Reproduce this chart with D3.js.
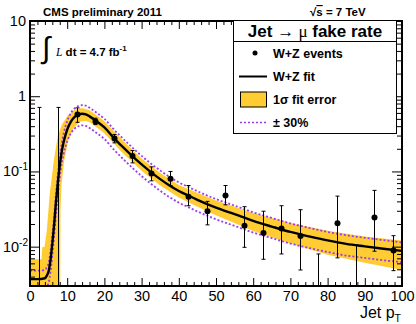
<!DOCTYPE html>
<html>
<head>
<meta charset="utf-8">
<script src="https://cdn.jsdelivr.net/npm/d3@7"></script>
<style>
  body { margin: 0; background: white; }
  svg text { font-family: "Liberation Sans", Arial, sans-serif; }
</style>
</head>
<body>
<div id="chart"></div>
<script>
// Data
const binCenters = [2.5, 7.5, 12.5, 17.5, 22.5, 27.5, 32.5, 37.5, 42.5, 47.5, 52.5, 57.5, 62.5, 67.5, 72.5, 77.5, 82.5, 87.5, 92.5, 97.5];
const rates = [null, null, 0.57, 0.46, 0.275, 0.16, 0.094, 0.08, 0.046, 0.0296, 0.048, 0.019, 0.0152, 0.0175, 0.0139, null, 0.0205, null, 0.0245, 0.0089];
const errHigh = [0.71, 0.71, 0.70, 0.51, 0.31, 0.19, 0.115, 0.10, 0.065, 0.040, 0.065, 0.034, 0.0296, 0.035, 0.031, 0.0080, 0.047, 0.0105, 0.056, 0.014];
const errLow = [0.001, 0.001, 0.45, 0.42, 0.24, 0.13, 0.075, 0.065, 0.035, 0.0195, 0.036, 0.0098, 0.0068, 0.008, 0.0049, 0.001, 0.0071, 0.001, 0.0087, 0.0048];

const fitX = [0, 2, 4, 4.5, 5, 5.5, 6, 6.5, 7, 7.5, 8, 8.5, 9, 10, 11, 12, 13, 14, 15, 16, 18, 20, 22.5, 25, 27.5, 30, 32.5, 35, 37.5, 40, 42.5, 45, 50, 55, 60, 65, 70, 75, 80, 85, 90, 95, 100];
const fitY = [0.0037, 0.0037, 0.0038, 0.0041, 0.0047, 0.0066, 0.011, 0.020, 0.040, 0.072, 0.12, 0.18, 0.24, 0.36, 0.46, 0.53, 0.57, 0.585, 0.575, 0.54, 0.46, 0.385, 0.28, 0.21, 0.16, 0.124, 0.098, 0.079, 0.065, 0.055, 0.048, 0.042, 0.033, 0.027, 0.022, 0.0185, 0.0157, 0.0137, 0.0121, 0.0109, 0.0101, 0.0094, 0.0088];
const plus30 = [0.0048, 0.0048, 0.0049, 0.0053, 0.0061, 0.0086, 0.0143, 0.026, 0.052, 0.094, 0.156, 0.234, 0.312, 0.468, 0.598, 0.689, 0.741, 0.761, 0.748, 0.702, 0.598, 0.501, 0.364, 0.273, 0.208, 0.161, 0.127, 0.103, 0.0845, 0.0715, 0.0624, 0.0546, 0.0429, 0.0351, 0.0286, 0.0241, 0.0204, 0.0178, 0.0157, 0.0142, 0.0131, 0.0122, 0.0114];
const minus30 = [0.0026, 0.0026, 0.0027, 0.0029, 0.0033, 0.0046, 0.0077, 0.014, 0.028, 0.050, 0.084, 0.126, 0.168, 0.252, 0.322, 0.371, 0.399, 0.41, 0.403, 0.378, 0.322, 0.27, 0.196, 0.147, 0.112, 0.0868, 0.0686, 0.0553, 0.0455, 0.0385, 0.0336, 0.0294, 0.0231, 0.0189, 0.0154, 0.013, 0.011, 0.0096, 0.0085, 0.0076, 0.0071, 0.0066, 0.0062];

// 1 sigma band edges
const bandHiX = [0, 3.1, 3.3, 3.9, 4.5, 5.3, 6.4, 7.5, 8.6, 10.2, 12, 14, 16, 18, 20, 25, 30, 35, 40, 45, 50, 60, 70, 80, 90, 100];
const bandHi = [0.0068, 0.0068, 0.0098, 0.0100, 0.016, 0.05, 0.14, 0.30, 0.42, 0.56, 0.66, 0.70, 0.65, 0.555, 0.465, 0.255, 0.149, 0.095, 0.066, 0.052, 0.041, 0.028, 0.0207, 0.0163, 0.0137, 0.0121];
const bandLoX = [0, 8.1, 8.2, 8.5, 9.2, 10.2, 11.6, 13.5, 15, 16, 18, 20, 25, 30, 35, 40, 45, 50, 60, 70, 80, 90, 100];
const bandLo = [0.001, 0.001, 0.03, 0.07, 0.14, 0.25, 0.37, 0.46, 0.47, 0.45, 0.385, 0.32, 0.175, 0.102, 0.065, 0.045, 0.034, 0.0262, 0.0161, 0.011, 0.0078, 0.0061, 0.0049];

const xMajor = [0, 10, 20, 30, 40, 50, 60, 70, 80, 90, 100];
const yMajor = [0.01, 0.1, 1, 10];
const yLabels = [["10", "-2"], ["10", "-1"], ["1", ""], ["10", ""]];
const legendLabels = ["W+Z events", "W+Z fit", "1σ fit error", "± 30%"];

const width = 416, height = 324;
const margin = {top: 21, right: 14, bottom: 38, left: 30};
const yellow = "#ffcc33", purple = "#9a3cf0";

const svg = d3.select("#chart").append("svg")
  .attr("width", width)
  .attr("height", height);

const x = d3.scaleLinear().domain([0, 100]).range([margin.left, width - margin.right]);
const y = d3.scaleLog().domain([0.003, 10]).range([height - margin.bottom, margin.top]);

svg.append("clipPath").attr("id", "plotclip")
  .append("rect")
  .attr("x", x(0)).attr("y", y(10))
  .attr("width", x(100) - x(0)).attr("height", y(0.003) - y(10));

const plot = svg.append("g").attr("clip-path", "url(#plotclip)");

// yellow band
const edge = d3.line().x(d => x(d[0])).y(d => y(d[1]));
const upper = bandHiX.map((v, i) => [v, bandHi[i]]);
const lower = bandLoX.map((v, i) => [v, bandLo[i]]).reverse();
plot.append("path")
  .attr("d", edge(upper) + "L" + edge(lower).slice(1) + "Z")
  .attr("fill", yellow);

// +-30% lines
const curve = d3.line().x(d => x(d[0])).y(d => y(d[1])).curve(d3.curveMonotoneX);
[plus30, minus30].forEach(s => {
  plot.append("path")
    .attr("d", curve(fitX.map((v, i) => [v, s[i]])))
    .attr("fill", "none")
    .attr("stroke", purple)
    .attr("stroke-width", 1.8)
    .attr("stroke-dasharray", "2,2");
});

// fit
plot.append("path")
  .attr("d", curve(fitX.map((v, i) => [v, fitY[i]])))
  .attr("fill", "none")
  .attr("stroke", "black")
  .attr("stroke-width", 2.4);

// error bars
const bars = plot.append("g").attr("stroke", "black").attr("stroke-width", 1);
binCenters.forEach((c, i) => {
  const cx = Math.round(x(c)) + 0.5;
  bars.append("line")
    .attr("x1", cx).attr("x2", cx)
    .attr("y1", y(errHigh[i])).attr("y2", y(errLow[i]));
  bars.append("line")
    .attr("x1", cx - 2).attr("x2", cx + 2)
    .attr("y1", y(errHigh[i])).attr("y2", y(errHigh[i]));
  if (errLow[i] > 0.003) {
    bars.append("line")
      .attr("x1", cx - 2).attr("x2", cx + 2)
      .attr("y1", y(errLow[i])).attr("y2", y(errLow[i]));
  }
});

// points
plot.selectAll("circle.pt")
  .data(binCenters.map((c, i) => ({c: c, v: rates[i]})).filter(d => d.v !== null))
  .enter()
  .append("circle")
  .attr("class", "pt")
  .attr("cx", d => Math.round(x(d.c)) + 0.5)
  .attr("cy", d => y(d.v))
  .attr("r", 3)
  .attr("fill", "black");

// axes
const xMinor = d3.range(0, 101, 2).filter(v => v % 10 !== 0);
const yMinor = y.ticks().filter(v => yMajor.indexOf(v) < 0 && v >= 0.003 && v <= 10);

function styleAxis(g) {
  g.select(".domain").remove();
  g.selectAll(".tick line").attr("stroke", "black").attr("stroke-width", 1);
}

svg.append("g")
  .attr("transform", `translate(0,${y(0.003)})`)
  .call(d3.axisBottom(x).tickValues(xMajor).tickSize(-8).tickPadding(5).tickFormat(d3.format("d")))
  .call(styleAxis)
  .call(g => g.selectAll("text").attr("font-size", 14.5).attr("fill", "black")
    .attr("font-family", "Liberation Sans, Arial, sans-serif"));
svg.append("g")
  .attr("transform", `translate(0,${y(0.003)})`)
  .call(d3.axisBottom(x).tickValues(xMinor).tickSize(-4).tickFormat(""))
  .call(styleAxis);
svg.append("g")
  .attr("transform", `translate(0,${y(10)})`)
  .call(d3.axisTop(x).tickValues(xMajor).tickSize(-8).tickFormat(""))
  .call(styleAxis);
svg.append("g")
  .attr("transform", `translate(0,${y(10)})`)
  .call(d3.axisTop(x).tickValues(xMinor).tickSize(-4).tickFormat(""))
  .call(styleAxis);

svg.append("g")
  .attr("transform", `translate(${x(0)},0)`)
  .call(d3.axisLeft(y).tickValues(yMajor).tickSize(-10).tickFormat(""))
  .call(styleAxis);
svg.append("g")
  .attr("transform", `translate(${x(0)},0)`)
  .call(d3.axisLeft(y).tickValues(yMinor).tickSize(-5).tickFormat(""))
  .call(styleAxis);
svg.append("g")
  .attr("transform", `translate(${x(100)},0)`)
  .call(d3.axisRight(y).tickValues(yMajor).tickSize(-10).tickFormat(""))
  .call(styleAxis);
svg.append("g")
  .attr("transform", `translate(${x(100)},0)`)
  .call(d3.axisRight(y).tickValues(yMinor).tickSize(-5).tickFormat(""))
  .call(styleAxis);

// y labels with exponents
yMajor.forEach((v, i) => {
  const t = svg.append("text")
    .attr("x", yLabels[i][1] ? 28 : 26)
    .attr("y", y(v) + 5)
    .attr("text-anchor", "end")
    .attr("font-size", 14.5)
    .text(yLabels[i][0]);
  if (yLabels[i][1]) {
    t.append("tspan").attr("dy", -6).attr("font-size", 10).text(yLabels[i][1]);
  }
});

// frame
svg.append("rect")
  .attr("x", x(0)).attr("y", y(10))
  .attr("width", x(100) - x(0)).attr("height", y(0.003) - y(10))
  .attr("fill", "none")
  .attr("stroke", "black")
  .attr("stroke-width", 2);

// x title
const xt = svg.append("text")
  .attr("x", 401).attr("y", 318)
  .attr("text-anchor", "end")
  .attr("font-size", 16)
  .text("Jet p");
xt.append("tspan").attr("dy", 4).attr("font-size", 10.5).text("T");

// header
svg.append("text").attr("x", 43).attr("y", 16)
  .attr("font-size", 11.5).attr("font-weight", "bold")
  .text("CMS preliminary 2011");
const rs = svg.append("text").attr("x", 310).attr("y", 16)
  .attr("font-size", 11.5).attr("font-weight", "bold");
rs.append("tspan").text("√");
rs.append("tspan").attr("text-decoration", "overline").text("s");
rs.append("tspan").text(" = 7 TeV");

// luminosity
svg.append("text").attr("x", 42).attr("y", 58)
  .attr("font-size", 30)
  .attr("font-family", "DejaVu Serif, serif")
  .text("∫");
const lum = svg.append("text").attr("x", 56).attr("y", 56)
  .attr("font-size", 11.5);
lum.append("tspan").attr("font-family", "Liberation Serif, serif").attr("font-style", "italic").text("L");
lum.append("tspan").attr("font-weight", "bold").text(" dt = 4.7 fb");
lum.append("tspan").attr("font-weight", "bold").attr("dy", -5).attr("font-size", 8).text("-1");

// legend
const lg = svg.append("g");
lg.append("rect")
  .attr("x", 233.5).attr("y", 20.5).attr("width", 163).attr("height", 113)
  .attr("fill", "white").attr("stroke", "black");
lg.append("line")
  .attr("x1", 233.5).attr("x2", 396.5).attr("y1", 41.5).attr("y2", 41.5)
  .attr("stroke", "black");
const title = lg.append("text")
  .attr("x", 315).attr("y", 37)
  .attr("text-anchor", "middle")
  .attr("font-size", 17).attr("font-weight", "bold");
title.append("tspan").text("Jet ");
title.append("tspan").attr("font-weight", "normal").text("→");
title.append("tspan").attr("font-weight", "normal").attr("font-family", "Liberation Serif, serif").text(" μ");
title.append("tspan").text(" fake rate");

const rowY = [53, 76.5, 99.5, 122.5];
lg.append("circle").attr("cx", 255).attr("cy", rowY[0]).attr("r", 2.5).attr("fill", "black");
lg.append("line").attr("x1", 239).attr("x2", 267).attr("y1", rowY[1]).attr("y2", rowY[1])
  .attr("stroke", "black").attr("stroke-width", 2);
lg.append("rect").attr("x", 240.5).attr("y", rowY[2] - 7.5).attr("width", 26).attr("height", 15)
  .attr("fill", yellow).attr("stroke", "black");
lg.append("line").attr("x1", 240).attr("x2", 267).attr("y1", rowY[3]).attr("y2", rowY[3])
  .attr("stroke", purple).attr("stroke-width", 1.5).attr("stroke-dasharray", "2,2");

legendLabels.forEach((s, i) => {
  lg.append("text")
    .attr("x", 273).attr("y", rowY[i] + 4.5)
    .attr("font-size", 12.5).attr("font-weight", "bold")
    .text(s);
});
</script>
</body>
</html>
